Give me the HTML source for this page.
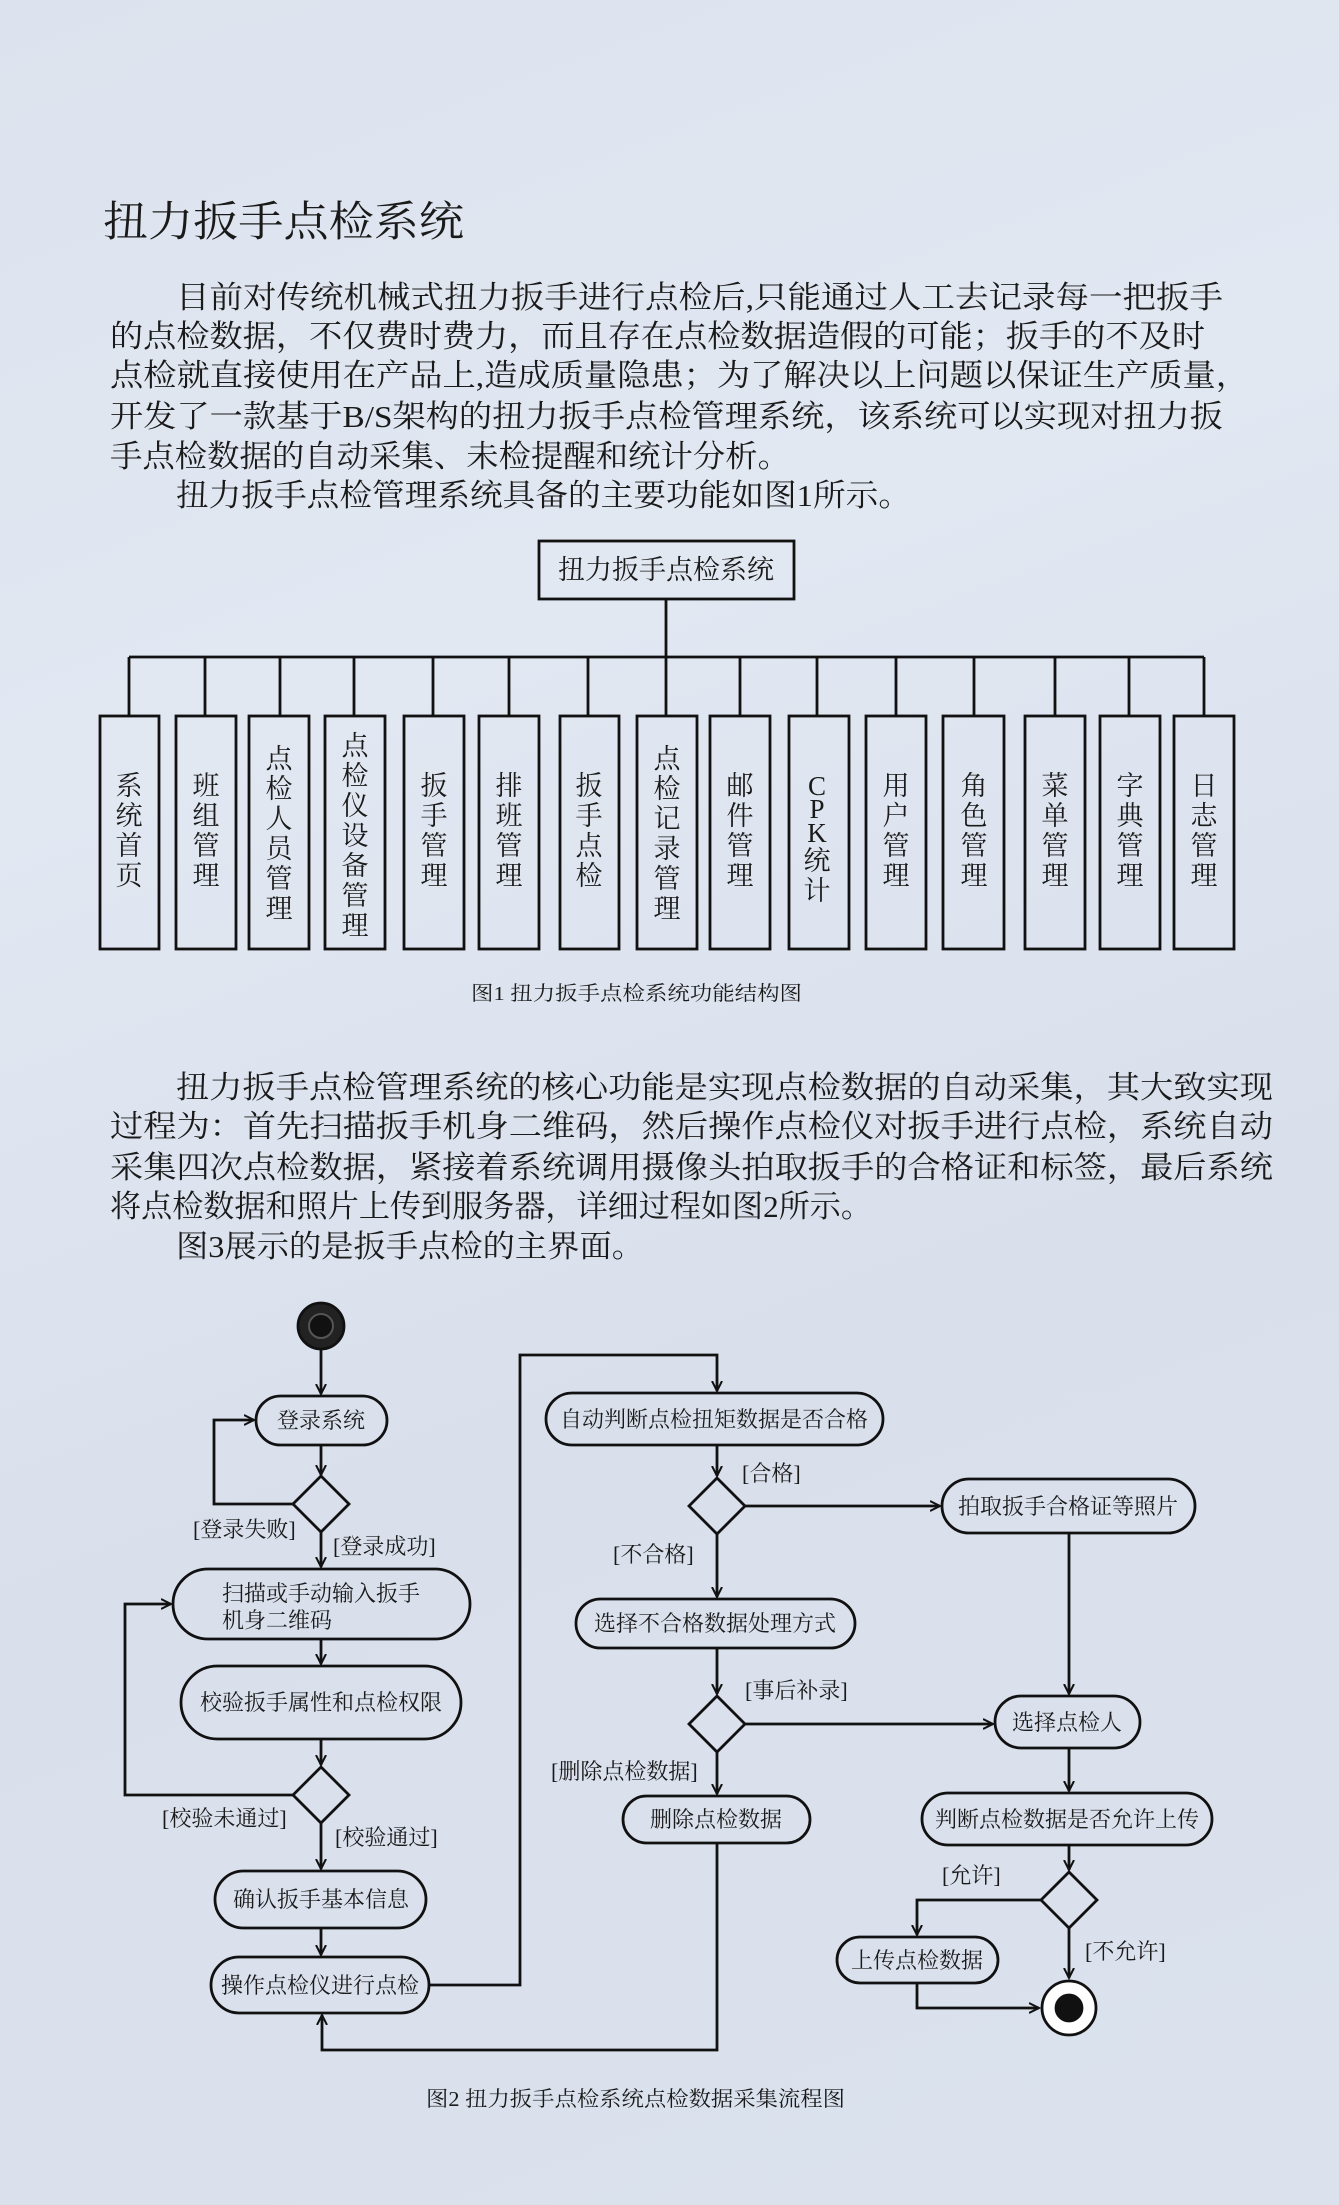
<!DOCTYPE html>
<html><head><meta charset="utf-8"><style>
html,body{margin:0;padding:0;}
body{width:1339px;height:2205px;overflow:hidden;background:linear-gradient(160deg,#dce3ee 0%,#e2e8f2 30%,#d9e0ec 60%,#dbe2ee 100%);}
svg{display:block;}
text{font-family:"Liberation Serif","Noto Serif CJK SC",serif;fill:#1a1a1a;}
</style></head><body>
<svg width="1339" height="2205" viewBox="0 0 1339 2205" xmlns="http://www.w3.org/2000/svg">
<defs>
<marker id="a" markerWidth="12" markerHeight="12" refX="10" refY="6" orient="auto" markerUnits="userSpaceOnUse">
<path d="M0,1 L10,6 L0,11" fill="none" stroke="#111" stroke-width="2"/></marker>
</defs>

<text x="103" y="236" font-size="42" textLength="361" lengthAdjust="spacingAndGlyphs">扭力扳手点检系统</text>

<g font-size="31">
<text x="176" y="308" textLength="1047" lengthAdjust="spacingAndGlyphs">目前对传统机械式扭力扳手进行点检后,只能通过人工去记录每一把扳手</text>
<text x="110" y="347" textLength="1095" lengthAdjust="spacingAndGlyphs">的点检数据，不仅费时费力，而且存在点检数据造假的可能；扳手的不及时</text>
<text x="110" y="386" textLength="1139" lengthAdjust="spacingAndGlyphs">点检就直接使用在产品上,造成质量隐患；为了解决以上问题以保证生产质量，</text>
<text x="110" y="427" textLength="1113" lengthAdjust="spacingAndGlyphs">开发了一款基于B/S架构的扭力扳手点检管理系统，该系统可以实现对扭力扳</text>
<text x="110" y="467" textLength="680" lengthAdjust="spacingAndGlyphs">手点检数据的自动采集、未检提醒和统计分析。</text>
<text x="176" y="506" textLength="735" lengthAdjust="spacingAndGlyphs">扭力扳手点检管理系统具备的主要功能如图1所示。</text>

<text x="176" y="1098" textLength="1097" lengthAdjust="spacingAndGlyphs">扭力扳手点检管理系统的核心功能是实现点检数据的自动采集，其大致实现</text>
<text x="110" y="1137" textLength="1163" lengthAdjust="spacingAndGlyphs">过程为：首先扫描扳手机身二维码，然后操作点检仪对扳手进行点检，系统自动</text>
<text x="110" y="1178" textLength="1163" lengthAdjust="spacingAndGlyphs">采集四次点检数据，紧接着系统调用摄像头拍取扳手的合格证和标签，最后系统</text>
<text x="110" y="1217" textLength="762" lengthAdjust="spacingAndGlyphs">将点检数据和照片上传到服务器，详细过程如图2所示。</text>
<text x="176" y="1257" textLength="468" lengthAdjust="spacingAndGlyphs">图3展示的是扳手点检的主界面。</text>
</g>

<g stroke="#111" stroke-width="2.8" fill="none">
<rect x="539" y="541" width="255" height="58"/>
<line x1="666" y1="599" x2="666" y2="657"/>
<line x1="129" y1="657" x2="1204" y2="657"/>
</g>
<text x="666" y="579" font-size="27" text-anchor="middle">扭力扳手点检系统</text>
<g stroke="#111" stroke-width="2.8" fill="none">
<line x1="129" y1="657" x2="129" y2="716"/><rect x="100" y="716" width="59" height="233"/>
<line x1="205" y1="657" x2="205" y2="716"/><rect x="176" y="716" width="60" height="233"/>
<line x1="280" y1="657" x2="280" y2="716"/><rect x="249" y="716" width="60" height="233"/>
<line x1="354" y1="657" x2="354" y2="716"/><rect x="325" y="716" width="60" height="233"/>
<line x1="433" y1="657" x2="433" y2="716"/><rect x="404" y="716" width="60" height="233"/>
<line x1="509" y1="657" x2="509" y2="716"/><rect x="479" y="716" width="60" height="233"/>
<line x1="588" y1="657" x2="588" y2="716"/><rect x="560" y="716" width="59" height="233"/>
<line x1="666" y1="657" x2="666" y2="716"/><rect x="637" y="716" width="60" height="233"/>
<line x1="740" y1="657" x2="740" y2="716"/><rect x="710" y="716" width="60" height="233"/>
<line x1="817" y1="657" x2="817" y2="716"/><rect x="789" y="716" width="60" height="233"/>
<line x1="896" y1="657" x2="896" y2="716"/><rect x="866" y="716" width="60" height="233"/>
<line x1="974" y1="657" x2="974" y2="716"/><rect x="943" y="716" width="61" height="233"/>
<line x1="1055" y1="657" x2="1055" y2="716"/><rect x="1025" y="716" width="60" height="233"/>
<line x1="1129" y1="657" x2="1129" y2="716"/><rect x="1100" y="716" width="60" height="233"/>
<line x1="1204" y1="657" x2="1204" y2="716"/><rect x="1174" y="716" width="60" height="233"/>
</g>
<g font-size="27" text-anchor="middle">
<text x="129" y="795">系</text><text x="129" y="825">统</text><text x="129" y="855">首</text><text x="129" y="885">页</text>
<text x="206" y="795">班</text><text x="206" y="825">组</text><text x="206" y="855">管</text><text x="206" y="885">理</text>
<text x="279" y="768">点</text><text x="279" y="798">检</text><text x="279" y="828">人</text><text x="279" y="858">员</text><text x="279" y="888">管</text><text x="279" y="918">理</text>
<text x="355" y="755">点</text><text x="355" y="785">检</text><text x="355" y="815">仪</text><text x="355" y="845">设</text><text x="355" y="875">备</text><text x="355" y="905">管</text><text x="355" y="935">理</text>
<text x="434" y="795">扳</text><text x="434" y="825">手</text><text x="434" y="855">管</text><text x="434" y="885">理</text>
<text x="509" y="795">排</text><text x="509" y="825">班</text><text x="509" y="855">管</text><text x="509" y="885">理</text>
<text x="589" y="795">扳</text><text x="589" y="825">手</text><text x="589" y="855">点</text><text x="589" y="885">检</text>
<text x="667" y="768">点</text><text x="667" y="798">检</text><text x="667" y="828">记</text><text x="667" y="858">录</text><text x="667" y="888">管</text><text x="667" y="918">理</text>
<text x="740" y="795">邮</text><text x="740" y="825">件</text><text x="740" y="855">管</text><text x="740" y="885">理</text>
<text x="817" y="795">C</text><text x="817" y="818">P</text><text x="817" y="842">K</text><text x="817" y="870">统</text><text x="817" y="900">计</text>
<text x="896" y="795">用</text><text x="896" y="825">户</text><text x="896" y="855">管</text><text x="896" y="885">理</text>
<text x="974" y="795">角</text><text x="974" y="825">色</text><text x="974" y="855">管</text><text x="974" y="885">理</text>
<text x="1055" y="795">菜</text><text x="1055" y="825">单</text><text x="1055" y="855">管</text><text x="1055" y="885">理</text>
<text x="1130" y="795">字</text><text x="1130" y="825">典</text><text x="1130" y="855">管</text><text x="1130" y="885">理</text>
<text x="1204" y="795">日</text><text x="1204" y="825">志</text><text x="1204" y="855">管</text><text x="1204" y="885">理</text>
</g>
<text x="471" y="1000" font-size="20" textLength="331" lengthAdjust="spacingAndGlyphs" fill="#333">图1  扭力扳手点检系统功能结构图</text>

<g stroke="#111" stroke-width="2.8" fill="none">
<circle cx="321" cy="1326" r="23" fill="#222"/>
<circle cx="321" cy="1326" r="12" fill="#111" stroke="#555" stroke-width="2"/>
<line x1="321" y1="1349" x2="321" y2="1394" marker-end="url(#a)"/>
<rect x="256" y="1396" width="131" height="49" rx="24.5"/>
<line x1="321" y1="1445" x2="321" y2="1475" marker-end="url(#a)"/>
<path d="M321,1476 L349,1504 L321,1532 L293,1504Z"/>
<path d="M293,1504 L214,1504 L214,1420 L254,1420" marker-end="url(#a)"/>
<line x1="321" y1="1532" x2="321" y2="1567" marker-end="url(#a)"/>
<rect x="173" y="1569" width="297" height="70" rx="35"/>
<line x1="321" y1="1639" x2="321" y2="1664" marker-end="url(#a)"/>
<rect x="181" y="1666" width="280" height="73" rx="36.5"/>
<line x1="321" y1="1739" x2="321" y2="1765" marker-end="url(#a)"/>
<path d="M321,1767 L349,1795 L321,1823 L293,1795Z"/>
<path d="M293,1795 L125,1795 L125,1604 L171,1604" marker-end="url(#a)"/>
<line x1="321" y1="1823" x2="321" y2="1869" marker-end="url(#a)"/>
<rect x="215" y="1871" width="211" height="57" rx="28.5"/>
<line x1="321" y1="1928" x2="321" y2="1955" marker-end="url(#a)"/>
<rect x="211" y="1957" width="218" height="56" rx="28"/>
<path d="M429,1985 L520,1985 L520,1355 L717,1355 L717,1391" marker-end="url(#a)"/>
<rect x="546" y="1393" width="337" height="52" rx="26"/>
<line x1="717" y1="1445" x2="717" y2="1476" marker-end="url(#a)"/>
<path d="M717,1478 L745,1506 L717,1534 L689,1506Z"/>
<line x1="745" y1="1506" x2="940" y2="1506" marker-end="url(#a)"/>
<rect x="942" y="1479" width="253" height="54" rx="27"/>
<line x1="717" y1="1534" x2="717" y2="1597" marker-end="url(#a)"/>
<rect x="576" y="1599" width="279" height="49" rx="24.5"/>
<line x1="717" y1="1648" x2="717" y2="1694" marker-end="url(#a)"/>
<path d="M717,1696 L745,1724 L717,1752 L689,1724Z"/>
<line x1="745" y1="1724" x2="993" y2="1724" marker-end="url(#a)"/>
<line x1="1069" y1="1533" x2="1069" y2="1694" marker-end="url(#a)"/>
<rect x="995" y="1696" width="145" height="52" rx="26"/>
<line x1="717" y1="1752" x2="717" y2="1794" marker-end="url(#a)"/>
<rect x="623" y="1796" width="187" height="47" rx="23.5"/>
<path d="M717,1843 L717,2050 L322,2050 L322,2015" marker-end="url(#a)"/>
<line x1="1069" y1="1748" x2="1069" y2="1791" marker-end="url(#a)"/>
<rect x="922" y="1793" width="290" height="52" rx="26"/>
<line x1="1069" y1="1845" x2="1069" y2="1870" marker-end="url(#a)"/>
<path d="M1069,1872 L1097,1900 L1069,1928 L1041,1900Z"/>
<path d="M1041,1900 L917,1900 L917,1935" marker-end="url(#a)"/>
<rect x="837" y="1937" width="161" height="46" rx="23"/>
<path d="M917,1983 L917,2008 L1039,2008" marker-end="url(#a)"/>
<line x1="1069" y1="1928" x2="1069" y2="1978" marker-end="url(#a)"/>
<circle cx="1069" cy="2008" r="27" fill="#fff" stroke="#111"/>
<circle cx="1069" cy="2008" r="13" fill="#111"/>
</g>
<g font-size="22">
<text x="321" y="1428" text-anchor="middle">登录系统</text>
<text x="193" y="1537">[登录失败]</text>
<text x="333" y="1554">[登录成功]</text>
<text x="222" y="1601">扫描或手动输入扳手</text>
<text x="222" y="1628">机身二维码</text>
<text x="321" y="1710" text-anchor="middle">校验扳手属性和点检权限</text>
<text x="162" y="1826">[校验未通过]</text>
<text x="335" y="1845">[校验通过]</text>
<text x="321" y="1907" text-anchor="middle">确认扳手基本信息</text>
<text x="320" y="1993" text-anchor="middle">操作点检仪进行点检</text>
<text x="714" y="1427" text-anchor="middle">自动判断点检扭矩数据是否合格</text>
<text x="742" y="1481">[合格]</text>
<text x="1068" y="1514" text-anchor="middle">拍取扳手合格证等照片</text>
<text x="613" y="1562">[不合格]</text>
<text x="715" y="1631" text-anchor="middle">选择不合格数据处理方式</text>
<text x="745" y="1698">[事后补录]</text>
<text x="1067" y="1730" text-anchor="middle">选择点检人</text>
<text x="551" y="1779">[删除点检数据]</text>
<text x="716" y="1827" text-anchor="middle">删除点检数据</text>
<text x="1067" y="1827" text-anchor="middle">判断点检数据是否允许上传</text>
<text x="942" y="1883">[允许]</text>
<text x="917" y="1968" text-anchor="middle">上传点检数据</text>
<text x="1085" y="1959">[不允许]</text>
</g>
<text x="426" y="2106" font-size="21" textLength="419" lengthAdjust="spacingAndGlyphs" fill="#333">图2  扭力扳手点检系统点检数据采集流程图</text>
</svg>
</body></html>
